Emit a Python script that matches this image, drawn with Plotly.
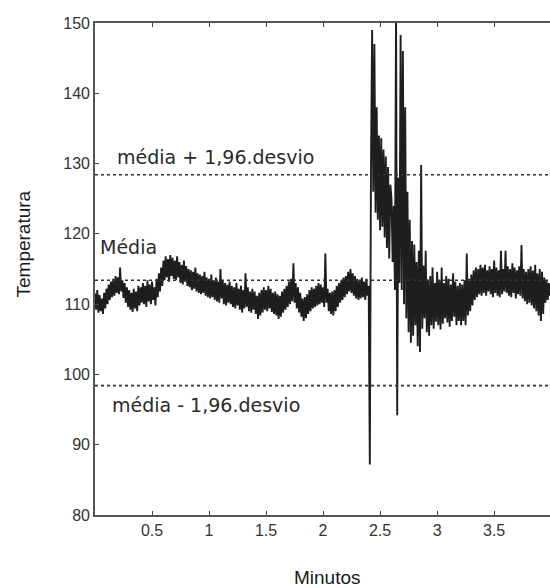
import numpy as np
import plotly.graph_objects as go

# Temperature readings sampled every 0.01 min (rows of 0.2 min)
temperatura = [
    111.5, 109.2, 112.0, 108.8, 111.3, 109.0, 110.8, 108.6, 111.6, 109.4, 112.2, 110.0, 112.8, 110.6, 113.2, 111.0, 113.6, 111.2, 114.0, 111.6,
    113.8, 111.4, 115.2, 111.8, 113.4, 110.9, 113.0, 110.2, 112.4, 109.6, 112.0, 109.2, 111.6, 108.9, 112.2, 109.4, 111.8, 109.0, 112.6, 109.8,
    112.4, 110.2, 113.0, 110.0, 112.6, 109.6, 113.4, 110.4, 112.8, 110.0, 113.2, 110.6, 112.4, 109.8, 113.6, 111.0, 114.4, 111.8, 115.2, 112.6,
    116.2, 113.4, 116.8, 113.8, 116.4, 113.2, 117.0, 114.0, 116.6, 113.6, 116.2, 113.4, 116.8, 113.8, 116.0, 113.0, 115.6, 112.8, 116.2, 113.2,
    115.4, 112.6, 115.0, 112.4, 114.8, 112.0, 114.6, 112.2, 115.2, 111.8, 114.4, 111.6, 114.2, 111.4, 114.0, 111.6, 114.6, 111.2, 113.8, 111.0,
    113.6, 110.8, 114.2, 111.0, 113.4, 110.6, 113.8, 110.4, 113.2, 110.2, 115.0, 110.8, 113.4, 110.0, 113.0, 109.8, 112.8, 110.2, 113.2, 110.0,
    112.6, 109.6, 112.4, 109.4, 113.0, 109.8, 112.2, 109.2, 112.6, 108.8, 112.0, 109.4, 114.4, 109.6, 112.4, 109.0, 111.8, 108.8, 112.2, 109.2,
    111.8, 108.6, 111.2, 107.9, 111.6, 108.4, 112.0, 108.8, 112.4, 109.2, 112.0, 109.0, 112.6, 109.4, 112.2, 108.9, 111.6, 108.6, 111.8, 108.4,
    111.4, 107.9, 111.2, 108.2, 111.8, 108.8, 112.2, 109.2, 112.6, 109.6, 113.2, 110.0, 113.6, 110.4, 115.8, 110.2, 113.0, 109.4, 112.4, 108.8,
    111.6, 108.2, 110.8, 107.6, 111.0, 108.0, 111.4, 108.6, 112.0, 109.0, 112.4, 109.4, 112.2, 109.6, 112.6, 109.8, 113.0, 110.0, 112.8, 110.2,
    112.4, 109.6, 117.2, 110.2, 112.2, 109.0, 111.6, 108.6, 111.8, 108.4, 112.0, 109.0, 112.6, 109.6, 113.0, 110.2, 113.4, 110.6, 113.8, 111.0,
    114.0, 111.4, 114.6, 111.8, 115.0, 111.6, 114.4, 111.2, 114.0, 110.8, 113.6, 110.6, 113.4, 110.8, 113.8, 111.0, 113.2, 110.6, 113.6, 111.2,
    112.6, 87.2, 128.8, 149.0, 126.0, 147.0, 123.0, 138.0, 122.0, 134.0, 120.5, 133.6, 121.0, 132.0, 119.5, 131.0, 118.0, 129.5, 116.5, 127.0,
    125.0, 116.0, 124.0, 112.0, 152.0, 94.2, 128.0, 113.0, 148.3, 112.0, 146.0, 110.0, 138.0, 108.0, 126.0, 106.0, 122.0, 104.5, 119.0, 105.5,
    118.5, 107.0, 116.0, 104.0, 117.6, 103.2, 129.8, 106.5, 115.5, 108.0, 117.6, 106.0, 113.5, 105.5, 114.0, 107.0, 115.2, 106.5, 113.0, 107.5,
    114.6, 107.0, 113.4, 106.4, 115.2, 107.2, 113.0, 108.0, 114.0, 107.4, 113.6, 106.8, 112.8, 107.6, 114.4, 108.2, 113.2, 107.0, 112.6, 107.6,
    113.0, 107.0, 112.8, 107.6, 113.4, 107.0, 117.2, 108.4, 113.6, 109.0, 114.2, 109.8, 114.8, 110.6, 115.2, 111.0, 115.0, 111.4, 115.6, 111.2,
    115.2, 111.6, 115.6, 111.2, 114.8, 111.8, 115.4, 111.4, 115.0, 111.0, 116.2, 111.6, 115.2, 111.2, 114.8, 111.0, 117.6, 111.4, 115.0, 111.8,
    117.6, 111.6, 115.4, 111.2, 115.0, 111.0, 115.8, 111.6, 115.2, 110.8, 114.8, 111.4, 115.4, 111.2, 118.4, 110.8, 115.0, 110.4, 114.6, 110.0,
    115.0, 110.2, 115.4, 109.8, 114.8, 109.4, 115.6, 109.0, 114.4, 108.4, 115.0, 107.6, 114.6, 108.6, 113.8, 110.2, 113.4, 110.6, 113.0, 111.2,
    112.0,
]
passo_min = 0.01
tempo = np.round(np.arange(len(temperatura)) * passo_min, 2)

media = 113.4
limite_sup = 128.4   # média + 1,96.desvio
limite_inf = 98.4    # média - 1,96.desvio

x_ticks = [0.5, 1, 1.5, 2, 2.5, 3, 3.5]
x_tick_labels = ["0.5", "1", "1.5", "2", "2.5", "3", "3.5"]
y_ticks = [80, 90, 100, 110, 120, 130, 140, 150]

fig = go.Figure()
fig.add_trace(go.Scatter(
    x=tempo, y=temperatura, mode="lines",
    line=dict(color="#1e1e1e", width=1.9),
    showlegend=False, hoverinfo="skip",
))

for nivel in (media, limite_sup, limite_inf):
    fig.add_hline(y=nivel, line=dict(color="#333333", width=1.6, dash="dot"))

texto = dict(family="DejaVu Sans", size=19, color="#2a2a2a")
fig.add_annotation(x=0.175, y=130.9, text="média + 1,96.desvio", showarrow=False,
                   xanchor="left", yanchor="middle", font=texto)
fig.add_annotation(x=0.03, y=118.1, text="Média", showarrow=False,
                   xanchor="left", yanchor="middle", font=texto)
fig.add_annotation(x=0.13, y=95.7, text="média - 1,96.desvio", showarrow=False,
                   xanchor="left", yanchor="middle", font=texto)

titulo = dict(family="Liberation Sans", size=19, color="#1a1a1a")
fig.add_annotation(xref="paper", yref="paper", x=0.512, y=-0.128,
                   text="Minutos", showarrow=False, xanchor="center",
                   yanchor="middle", font=titulo)
fig.add_annotation(xref="paper", yref="paper", x=-0.158, y=0.55,
                   text="Temperatura", showarrow=False, textangle=-90,
                   xanchor="center", yanchor="middle", font=titulo)

eixo = dict(showline=True, linecolor="#555555", linewidth=1.6,
            ticks="inside", ticklen=4, tickcolor="#444444",
            showgrid=False, zeroline=False,
            tickfont=dict(family="Liberation Sans", size=16, color="#333333"))

fig.update_xaxes(range=[0, 3.99], tickvals=x_ticks, ticktext=x_tick_labels,
                 mirror="ticks", **eixo)
fig.update_yaxes(range=[80, 150], tickvals=y_ticks, mirror=False, **eixo)

fig.update_layout(
    width=550, height=588,
    margin=dict(l=95, r=0, t=23, b=73),
    paper_bgcolor="white", plot_bgcolor="white",
)

fig.write_html("out.html")
